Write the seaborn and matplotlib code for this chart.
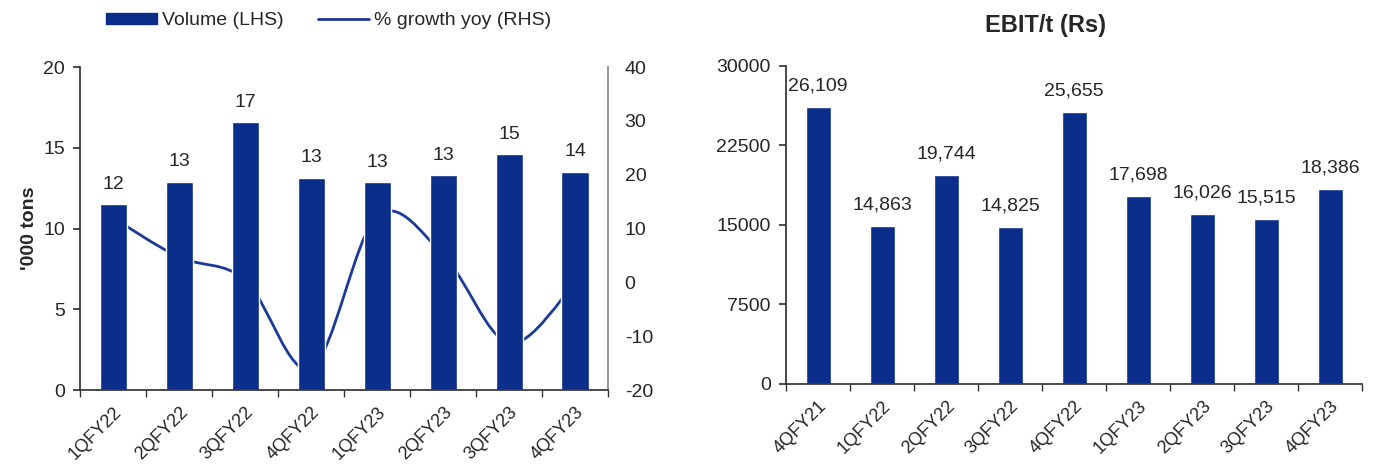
import matplotlib
matplotlib.use("Agg")
import matplotlib.pyplot as plt
import matplotlib.transforms as mtransforms
import seaborn as sns
import numpy as np
import pandas as pd
from matplotlib.path import Path
from matplotlib.patches import PathPatch, Rectangle
from matplotlib.lines import Line2D

# ---------------- data ----------------
vol_quarters = ["1QFY22", "2QFY22", "3QFY22", "4QFY22", "1QFY23", "2QFY23", "3QFY23", "4QFY23"]
volume = [11.54, 12.91, 16.62, 13.16, 12.87, 13.31, 14.59, 13.53]
volume_labels = ["12", "13", "17", "13", "13", "13", "15", "14"]
growth_yoy = [12.0, 4.7, 0.5, -16.0, 12.3, 5.2, -11.3, -0.1]

ebit_quarters = ["4QFY21", "1QFY22", "2QFY22", "3QFY22", "4QFY22", "1QFY23", "2QFY23", "3QFY23", "4QFY23"]
ebit = [26109, 14863, 19744, 14825, 25655, 17698, 16026, 15515, 18386]

left_yticks = [0, 5, 10, 15, 20]
right_yticks = [-20, -10, 0, 10, 20, 30, 40]
ebit_yticks = [0, 7500, 15000, 22500, 30000]

BAR = "#0B2E8A"
LINE = "#1A3A98"
FS = 14
XFS = 13

sns.set_theme(style="white")
plt.rcParams["font.family"] = ["Liberation Sans", "DejaVu Sans"]
plt.rcParams["axes.edgecolor"] = "#333333"

fig = plt.figure(figsize=(13.8, 4.66), dpi=100)
shift = mtransforms.ScaledTranslation(3 / 72, 0, fig.dpi_scale_trans)


def style_xticks(ax, labels):
    ax.set_xticks(range(len(labels)))
    ax.set_xticklabels(labels, rotation=45, ha="right", va="top",
                       rotation_mode="anchor", fontsize=XFS)
    for t in ax.get_xticklabels():
        t.set_transform(t.get_transform() + shift)
    ax.set_xticks(np.arange(-0.5, len(labels), 1.0), minor=True)
    ax.tick_params(axis="x", which="major", length=0, pad=10)
    ax.tick_params(axis="x", which="minor", length=5, direction="out",
                   color="#333333", bottom=True)


# ---------------- left chart ----------------
ax1 = fig.add_axes([0.058, 0.163, 0.3826, 0.693])
df1 = pd.DataFrame({"q": vol_quarters, "v": volume})
sns.barplot(data=df1, x="q", y="v", color=BAR, width=0.41, ax=ax1, saturation=1)
ax1.set_xlim(-0.5, len(vol_quarters) - 0.5)
ax1.set_ylim(0, 20)
ax1.set_yticks(left_yticks)
ax1.set_yticklabels([str(t) for t in left_yticks], fontsize=FS)
ax1.set_xlabel("")
ax1.set_ylabel("'000 tons", fontsize=FS, fontweight="bold")
ax1.yaxis.set_label_coords(-0.08, 0.5)
for i, (v, lab) in enumerate(zip(volume, volume_labels)):
    ax1.annotate(lab, (i, v), xytext=(0, 8), textcoords="offset points",
                 ha="center", va="bottom", fontsize=FS)
style_xticks(ax1, vol_quarters)
ax1.tick_params(axis="y", length=5, direction="out", color="#333333", left=True, pad=6)
ax1.spines["top"].set_visible(False)
ax1.spines["right"].set_visible(False)

ax2 = ax1.twinx()
ax2.set_ylim(-20, 40)
ax2.set_yticks(right_yticks)
ax2.set_yticklabels([str(t) for t in right_yticks], fontsize=FS)
ax2.tick_params(axis="y", length=0, pad=12)
ax2.spines["top"].set_visible(False)
ax2.spines["left"].set_visible(False)
ax2.spines["bottom"].set_visible(False)
ax2.spines["right"].set_color("#888888")
ax2.grid(False)
# bars drawn above the line
ax1.set_zorder(ax2.get_zorder() + 1)
ax1.patch.set_visible(False)

# smooth (Catmull-Rom -> Bezier) line through the growth points
xs = np.arange(len(growth_yoy), dtype=float)
ys = np.array(growth_yoy, dtype=float)
pts = np.column_stack([xs, ys])
verts = [tuple(pts[0])]
codes = [Path.MOVETO]
n = len(pts)
for i in range(n - 1):
    p0 = pts[i - 1] if i > 0 else pts[i]
    p1 = pts[i]
    p2 = pts[i + 1]
    p3 = pts[i + 2] if i + 2 < n else pts[i + 1]
    c1 = p1 + (p2 - p0) / 6.0
    c2 = p2 - (p3 - p1) / 6.0
    verts += [tuple(c1), tuple(c2), tuple(p2)]
    codes += [Path.CURVE4] * 3
ax2.add_patch(PathPatch(Path(verts, codes), facecolor="none", edgecolor=LINE, lw=2.0))

handles = [Rectangle((0, 0), 1, 1, facecolor=BAR, edgecolor=BAR),
           Line2D([0], [0], color=LINE, lw=2.0)]
fig.legend(handles, ["Volume (LHS)", "% growth yoy (RHS)"], loc="center",
           bbox_to_anchor=(0.238, 0.955), ncol=2, frameon=False, fontsize=FS,
           handlelength=2.6, handleheight=0.5, columnspacing=1.8, handletextpad=0.25)

# ---------------- right chart ----------------
ax3 = fig.add_axes([0.5696, 0.176, 0.4174, 0.683])
df2 = pd.DataFrame({"q": ebit_quarters, "v": ebit})
sns.barplot(data=df2, x="q", y="v", color=BAR, width=0.39, ax=ax3, saturation=1)
ax3.set_xlim(-0.5, len(ebit_quarters) - 0.5)
ax3.set_ylim(0, 30000)
ax3.set_yticks(ebit_yticks)
ax3.set_yticklabels([str(t) for t in ebit_yticks], fontsize=FS)
ax3.set_xlabel("")
ax3.set_ylabel("")
for i, v in enumerate(ebit):
    ax3.annotate(f"{v:,}", (i, v), xytext=(0, 9), textcoords="offset points",
                 ha="center", va="bottom", fontsize=FS)
style_xticks(ax3, ebit_quarters)
ax3.tick_params(axis="y", length=5, direction="out", color="#333333", left=True, pad=6)
ax3.spines["top"].set_visible(False)
ax3.spines["right"].set_visible(False)
ax3.set_title("EBIT/t (Rs)", fontsize=17, fontweight="bold", pad=24, x=0.451)

fig.savefig("out.png", dpi=100)
